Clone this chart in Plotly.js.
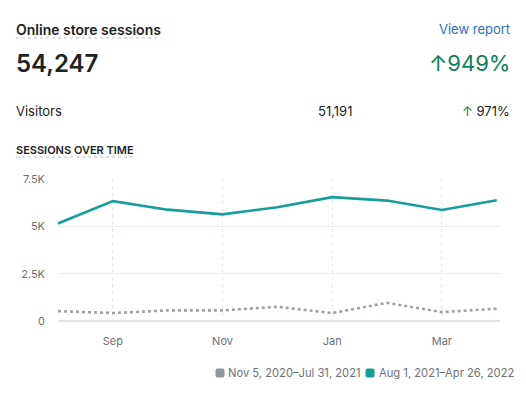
<!DOCTYPE html>
<html>
<head>
<meta charset="utf-8">
<script src="https://cdn.plot.ly/plotly-3.0.1.min.js"></script>
<style>
html,body{margin:0;padding:0;background:#fff;}
#chart{width:526px;height:397px;}
</style>
</head>
<body>
<div id="chart"></div>
<script>
// ---- data ----
const months = ["Aug", "Sep", "Oct", "Nov", "Dec", "Jan", "Feb", "Mar", "Apr"];
const currentSessions = [5150, 6330, 5880, 5630, 6010, 6540, 6360, 5860, 6380];
const previousSessions = [520, 420, 560, 560, 750, 420, 960, 470, 650];
const seriesNames = ["Nov 5, 2020–Jul 31, 2021", "Aug 1, 2021–Apr 26, 2022"];
const xTickLabels = ["Sep", "Nov", "Jan", "Mar"];
const yTickValues = [0, 2500, 5000, 7500];
const yTickLabels = ["0", "2.5K", "5K", "7.5K"];
const headerTitle = "Online store sessions";
const headerTotal = "54,247";
const headerChange = "949%";
const visitorsLabel = "Visitors";
const visitorsTotal = "51,191";
const visitorsChange = "971%";
const sectionLabel = "SESSIONS OVER TIME";
const linkLabel = "View report";

// ---- layout helpers (pixel -> paper) ----
const W = 526, H = 397;
const M = {l: 58, r: 26, t: 179, b: 76, autoexpand: false};
const PW = W - M.l - M.r, PH = H - M.t - M.b;
const px = x => (x - M.l) / PW;
const py = y => (H - M.b - y) / PH;

const FONT = "Inter, 'Noto Sans', 'DejaVu Sans', sans-serif";
const teal = "#179e98";
const grayLine = "#9aa2a8";
const grayLegend = "#8f989e";
const green = "#0a8060";
const seriesColors = [grayLegend, teal];

function ann(text, x, y, opts) {
  return Object.assign({
    text: text, xref: "paper", yref: "paper", x: px(x), y: py(y),
    showarrow: false, xanchor: "left", yanchor: "middle",
    font: {family: FONT, size: 13, color: "#202223"}
  }, opts || {});
}
function roundSquare(cx, cy, s, r, color) {
  const x0 = cx - s / 2, x1 = cx + s / 2, y0 = cy - s / 2, y1 = cy + s / 2;
  const P = (x, y) => px(x) + "," + py(y);
  const path = "M" + P(x0 + r, y0) + " L" + P(x1 - r, y0) +
    " Q" + P(x1, y0) + " " + P(x1, y0 + r) +
    " L" + P(x1, y1 - r) + " Q" + P(x1, y1) + " " + P(x1 - r, y1) +
    " L" + P(x0 + r, y1) + " Q" + P(x0, y1) + " " + P(x0, y1 - r) +
    " L" + P(x0, y0 + r) + " Q" + P(x0, y0) + " " + P(x0 + r, y0) + " Z";
  return {type: "path", xref: "paper", yref: "paper", path: path,
          fillcolor: color, line: {width: 0}};
}

const traces = [
  {
    x: months, y: previousSessions, type: "scatter", mode: "lines",
    name: seriesNames[0], showlegend: false, hoverinfo: "skip",
    line: {color: grayLine, width: 2.6, dash: "dot"}
  },
  {
    x: months, y: currentSessions, type: "scatter", mode: "lines",
    name: seriesNames[1], showlegend: false, hoverinfo: "skip",
    line: {color: teal, width: 2.6}
  }
];

// legend (custom, right aligned)
const legendX = [226, 377];
const legendSquaresX = [220, 370];
const legendY = 373;

const layout = {
  width: W, height: H,
  margin: M,
  paper_bgcolor: "#ffffff", plot_bgcolor: "#ffffff",
  font: {family: FONT, color: "#6d7175"},
  showlegend: false,
  xaxis: {
    type: "category",
    range: [0, months.length - 1 + 0.06],
    tickmode: "array", tickvals: xTickLabels, ticktext: xTickLabels,
    showgrid: true, gridcolor: "#e6e8ea", griddash: "4px,3px", gridwidth: 1,
    zeroline: false, showline: false, ticks: "",
    tickfont: {family: FONT, size: 11, color: "#6d7175"},
    ticklabelstandoff: 12,
    fixedrange: true
  },
  yaxis: {
    range: [0, 7500],
    tickmode: "array", tickvals: yTickValues, ticktext: yTickLabels,
    showgrid: true, gridcolor: "#ebedef", gridwidth: 1,
    zeroline: true, zerolinecolor: "#dfe2e5", zerolinewidth: 1.2,
    showline: false, ticks: "",
    tickfont: {family: FONT, size: 11, color: "#6d7175"},
    ticklabelstandoff: 12,
    fixedrange: true
  },
  annotations: [
    ann(headerTitle, 14, 29, {font: {family: FONT, size: 14, color: "#202223", weight: 600}}),
    ann(linkLabel, 512, 29, {xanchor: "right", font: {family: FONT, size: 13, color: "#2c6ecb"}}),
    ann(headerTotal, 14, 63, {font: {family: FONT, size: 24, color: "#202223", weight: 600}}),
    ann("↑" + headerChange, 512, 63, {xanchor: "right", font: {family: FONT, size: 22, color: green}}),
    ann(visitorsLabel, 14, 111, {font: {family: FONT, size: 13, color: "#202223"}}),
    ann(visitorsTotal, 354, 111, {xanchor: "right", font: {family: FONT, size: 13, color: "#202223"}}),
    ann("<span style='color:" + green + "'>↑</span> " + visitorsChange, 512, 111, {xanchor: "right", font: {family: FONT, size: 13, color: "#202223"}}),
    ann(sectionLabel, 14, 150, {font: {family: FONT, size: 11, color: "#202223", weight: 600}}),
    ann(seriesNames[0], legendX[0], legendY, {font: {family: FONT, size: 11.2, color: "#6d7175"}}),
    ann(seriesNames[1], legendX[1], legendY, {font: {family: FONT, size: 11.2, color: "#6d7175"}})
  ],
  shapes: [
    {type: "line", xref: "paper", yref: "paper", x0: px(16), x1: px(160), y0: py(38), y1: py(38),
     line: {color: "#babfc3", width: 1, dash: "dot"}},
    {type: "line", xref: "paper", yref: "paper", x0: px(16), x1: px(133), y0: py(157), y1: py(157),
     line: {color: "#babfc3", width: 1, dash: "dot"}},
    roundSquare(legendSquaresX[0], legendY, 9, 2, seriesColors[0]),
    roundSquare(legendSquaresX[1], legendY, 9, 2, seriesColors[1])
  ]
};

Plotly.newPlot("chart", traces, layout, {displayModeBar: false, staticPlot: true});
</script>
</body>
</html>
